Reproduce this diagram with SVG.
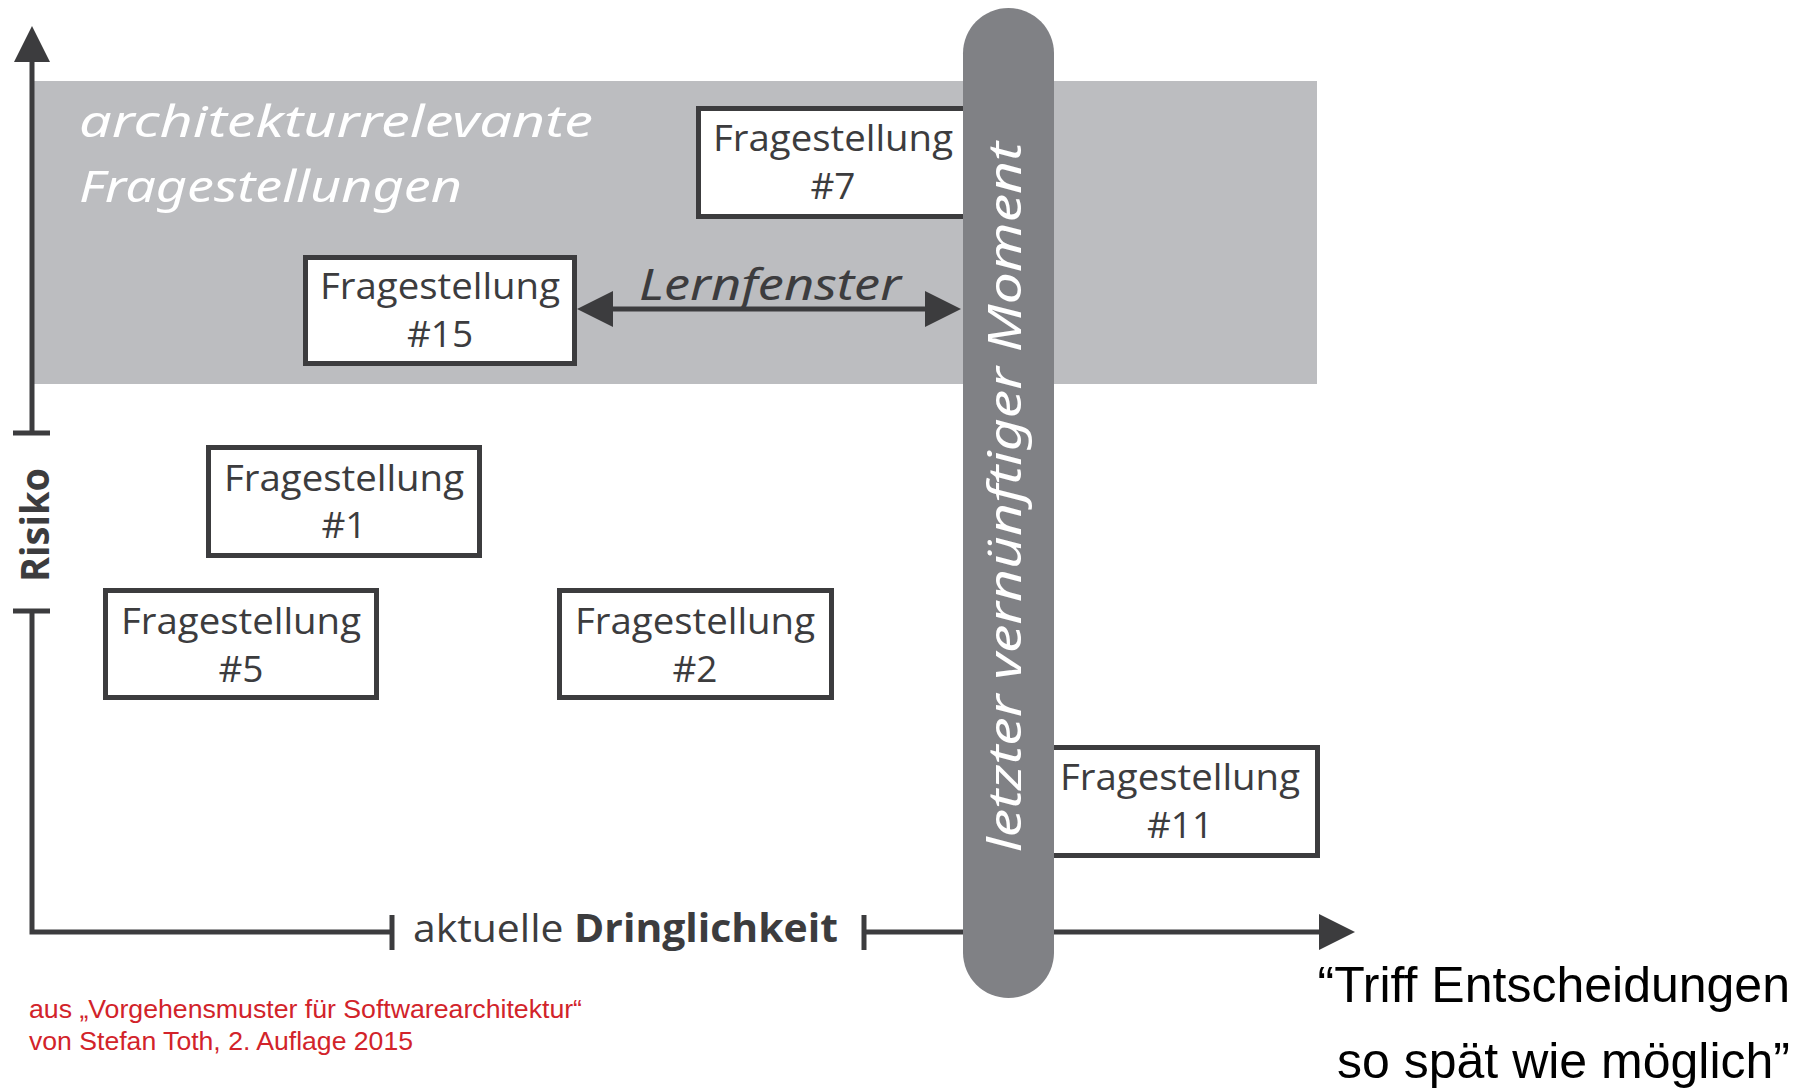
<svg xmlns="http://www.w3.org/2000/svg" width="1806" height="1089" viewBox="0 0 1806 1089">
<style>
.box{fill:#fff;stroke:#3c3c3e;stroke-width:5}
.bt{font-family:"Open Sans",sans-serif;font-size:37px;fill:#3c3c3e;text-anchor:middle}
.ax{stroke:#3c3c3e;stroke-width:5;fill:none}
.hand{font-family:"Noto Sans",sans-serif;font-style:italic}
</style>
<defs>
<marker id="ah" markerUnits="userSpaceOnUse" markerWidth="36" markerHeight="36" viewBox="0 0 36 36" refX="0" refY="18" orient="auto-start-reverse">
<polygon points="0,0 36,18 0,36" fill="#3c3c3e"/>
</marker>
</defs>
<rect id="band" x="32" y="81" width="1285" height="303" fill="#bcbdc0"/>
<g id="connectors">
<path class="ax" d="M32,433 V62" marker-end="url(#ah)"/>
<path class="ax" d="M13,433 H50 M13,611 H50"/>
<path class="ax" d="M32,611 V932 H392"/>
<path class="ax" d="M392,915 V950 M864,915 V950"/>
<path class="ax" d="M864,932 H1319" marker-end="url(#ah)"/>
<path class="ax" d="M613,309 H925" stroke-width="6" marker-start="url(#ah)" marker-end="url(#ah)"/>
</g>
<g id="n7"><rect class="box" x="698.5" y="108.5" width="269" height="108"/><text class="bt" x="833" y="151" textLength="240" lengthAdjust="spacingAndGlyphs">Fragestellung</text><text class="bt" x="833" y="199">#7</text></g>
<g id="n15"><rect class="box" x="305.5" y="257.5" width="269" height="106"/><text class="bt" x="440" y="299" textLength="240" lengthAdjust="spacingAndGlyphs">Fragestellung</text><text class="bt" x="440" y="347">#15</text></g>
<g id="n1"><rect class="box" x="208.5" y="447.5" width="271" height="108"/><text class="bt" x="344" y="491" textLength="240" lengthAdjust="spacingAndGlyphs">Fragestellung</text><text class="bt" x="344" y="538">#1</text></g>
<g id="n5"><rect class="box" x="105.5" y="590.5" width="271" height="107"/><text class="bt" x="241" y="634" textLength="240" lengthAdjust="spacingAndGlyphs">Fragestellung</text><text class="bt" x="241" y="682">#5</text></g>
<g id="n2"><rect class="box" x="559.5" y="590.5" width="272" height="107"/><text class="bt" x="695" y="634" textLength="240" lengthAdjust="spacingAndGlyphs">Fragestellung</text><text class="bt" x="695" y="682">#2</text></g>
<g id="n11"><rect class="box" x="1045.5" y="747.5" width="272" height="108"/><text class="bt" x="1180" y="790" textLength="240" lengthAdjust="spacingAndGlyphs">Fragestellung</text><text class="bt" x="1180" y="838">#11</text></g>
<g id="moment">
<rect x="963" y="8" width="91" height="990" rx="45.5" ry="45.5" fill="#808185"/>
<text class="hand" transform="translate(1021,852) rotate(-90)" x="0" y="0" font-size="46" fill="#fff" textLength="710" lengthAdjust="spacingAndGlyphs">letzter vernünftiger Moment</text>
</g>
<g id="labels">
<text class="hand" x="79" y="137" font-size="44" fill="#fff" textLength="514" lengthAdjust="spacingAndGlyphs">architekturrelevante</text>
<text class="hand" x="79" y="202" font-size="44" fill="#fff" textLength="383" lengthAdjust="spacingAndGlyphs">Fragestellungen</text>
<text class="hand" x="639" y="300" font-size="44" fill="#3c3c3e" textLength="262" lengthAdjust="spacingAndGlyphs">Lernfenster</text>
<text transform="translate(49,582) rotate(-90)" font-family="Open Sans, sans-serif" font-weight="bold" font-size="39" fill="#3c3c3e" textLength="114" lengthAdjust="spacingAndGlyphs">Risiko</text>
<text x="413" y="942" font-family="Open Sans, sans-serif" font-size="39" fill="#3c3c3e" textLength="425" lengthAdjust="spacingAndGlyphs"><tspan>aktuelle </tspan><tspan font-weight="bold">Dringlichkeit</tspan></text>
<text x="1790" y="1002" font-family="Liberation Sans, Arial, sans-serif" font-size="50" fill="#000" text-anchor="end">“Triff Entscheidungen</text>
<text x="1790" y="1078" font-family="Liberation Sans, Arial, sans-serif" font-size="50" fill="#000" text-anchor="end">so spät wie möglich”</text>
<text x="29" y="1018" font-family="Liberation Sans, Arial, sans-serif" font-size="26.5" fill="#d2232a" textLength="553" lengthAdjust="spacingAndGlyphs">aus „Vorgehensmuster für Softwarearchitektur“</text>
<text x="29" y="1050" font-family="Liberation Sans, Arial, sans-serif" font-size="26.5" fill="#d2232a" textLength="384" lengthAdjust="spacingAndGlyphs">von Stefan Toth, 2. Auflage 2015</text>
</g>
</svg>
